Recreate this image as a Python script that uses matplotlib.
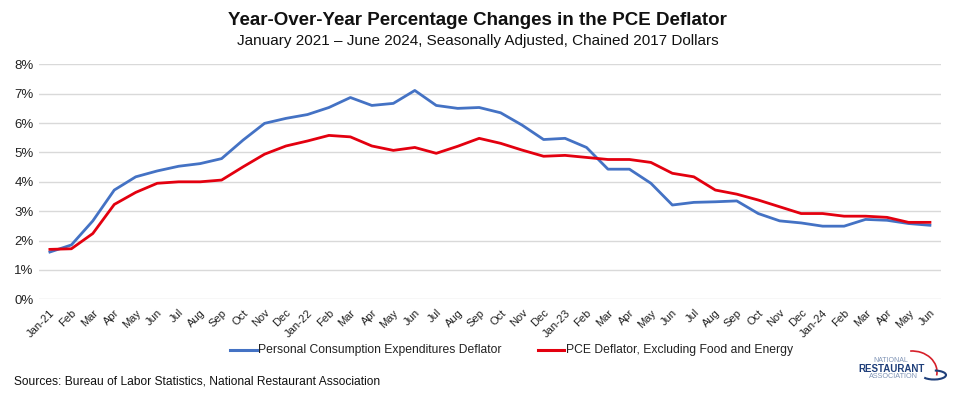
import matplotlib
matplotlib.use("Agg")
import matplotlib.pyplot as plt
from matplotlib.patches import Arc
import matplotlib.transforms as mtransforms
import numpy as np

plt.rcParams['font.family'] = ['Liberation Sans', 'DejaVu Sans']

months = ["Jan-21", "Feb", "Mar", "Apr", "May", "Jun", "Jul", "Aug", "Sep", "Oct", "Nov", "Dec",
          "Jan-22", "Feb", "Mar", "Apr", "May", "Jun", "Jul", "Aug", "Sep", "Oct", "Nov", "Dec",
          "Jan-23", "Feb", "Mar", "Apr", "May", "Jun", "Jul", "Aug", "Sep", "Oct", "Nov", "Dec",
          "Jan-24", "Feb", "Mar", "Apr", "May", "Jun"]

pce = [1.61, 1.85, 2.67, 3.72, 4.17, 4.37, 4.53, 4.62, 4.79, 5.42, 5.99, 6.16,
       6.29, 6.53, 6.87, 6.60, 6.67, 7.11, 6.60, 6.50, 6.53, 6.35, 5.93, 5.44,
       5.48, 5.17, 4.43, 4.43, 3.95, 3.21, 3.30, 3.32, 3.35, 2.92, 2.67, 2.60,
       2.49, 2.49, 2.72, 2.69, 2.58, 2.52]

core = [1.70, 1.72, 2.24, 3.23, 3.64, 3.95, 4.00, 4.00, 4.06, 4.51, 4.94, 5.22,
        5.39, 5.58, 5.53, 5.22, 5.07, 5.17, 4.97, 5.21, 5.48, 5.31, 5.08, 4.87,
        4.90, 4.83, 4.76, 4.76, 4.66, 4.29, 4.17, 3.72, 3.58, 3.38, 3.15, 2.92,
        2.92, 2.83, 2.83, 2.79, 2.62, 2.62]

y_ticks = [0, 1, 2, 3, 4, 5, 6, 7, 8]
y_labels = [f"{v}%" for v in y_ticks]

title = "Year-Over-Year Percentage Changes in the PCE Deflator"
subtitle = "January 2021 \u2013 June 2024, Seasonally Adjusted, Chained 2017 Dollars"
source = "Sources: Bureau of Labor Statistics, National Restaurant Association"
series_names = ["Personal Consumption Expenditures Deflator", "PCE Deflator, Excluding Food and Energy"]

blue = "#4472C4"
red = "#E3000F"

fig = plt.figure(figsize=(9.55, 4.01), dpi=100)
ax = fig.add_axes([0.041, 0.2536, 0.944, 0.586])

x = np.arange(len(months))
ax.plot(x, pce, color=blue, lw=2.0, solid_joinstyle='round', zorder=3)
ax.plot(x, core, color=red, lw=2.0, solid_joinstyle='round', zorder=4)

ax.set_xlim(-0.5, len(months) - 0.5)
ax.set_ylim(0, 8)
ax.set_yticks(y_ticks)
ax.set_yticklabels(y_labels, fontsize=9.5, color="#222222")
ax.set_xticks(x)
ax.set_xticklabels(months, rotation=45, ha='right', rotation_mode='anchor', fontsize=8, color="#222222")
offset = mtransforms.ScaledTranslation(2 / 100, 0, fig.dpi_scale_trans)
for lbl in ax.get_xticklabels():
    lbl.set_transform(lbl.get_transform() + offset)
ax.tick_params(axis='both', length=0, pad=4)
ax.tick_params(axis='x', pad=6)
ax.grid(axis='y', color="#d9d9d9", lw=1.0)
ax.set_axisbelow(True)
for s in ax.spines.values():
    s.set_visible(False)

fig.text(0.5, 0.948, title, ha='center', va='center', fontsize=13.5, fontweight='bold', color="#111111")
fig.text(0.5, 0.898, subtitle, ha='center', va='center', fontsize=11, color="#111111")

# overlay axes in pixel coordinates for legend, source and logo
ov = fig.add_axes([0, 0, 1, 1])
ov.set_xlim(0, 955)
ov.set_ylim(401, 0)
ov.axis('off')
ov.patch.set_alpha(0)

ov.plot([230, 257], [350, 350], color=blue, lw=2.2)
ov.text(258, 350, series_names[0], ha='left', va='center', fontsize=8.7, color="#222222")
ov.plot([538, 564], [350, 350], color=red, lw=2.2)
ov.text(566, 350, series_names[1], ha='left', va='center', fontsize=8.7, color="#222222")

ov.text(14, 381, source, ha='left', va='center', fontsize=8.65, color="#111111")

# logo (y axis inverted: angle 270 is the top)
ov.text(891, 360, "NATIONAL", ha='center', va='center', fontsize=5.0, color="#7f93b5")
ov.text(892, 368.5, "RESTAURANT", ha='center', va='center', fontsize=7.0, fontweight='bold', color="#1f3f7a")
ov.text(893, 376, "ASSOCIATION", ha='center', va='center', fontsize=5.2, color="#7f93b5")
ov.add_patch(Arc((912, 372), 50, 42, theta1=265, theta2=368, color="#d6202a", lw=1.2))
ov.add_patch(Arc((934, 375), 24, 9, theta1=-80, theta2=165, color="#1f3f7a", lw=1.5))

fig.savefig("out.png", dpi=100, facecolor="white")
